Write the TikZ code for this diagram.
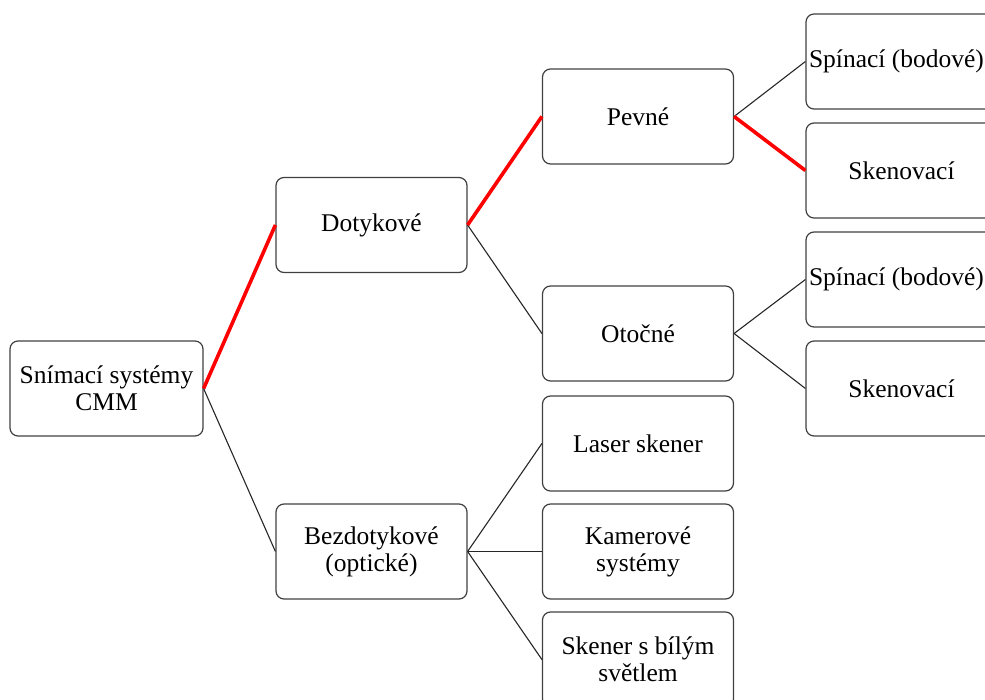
\documentclass[tikz,border=0pt]{standalone}
\usepackage{fontspec}
\setmainfont{Liberation Serif}
\begin{document}
\begin{tikzpicture}[
    x=1pt, y=-1pt,
    every node/.style={font=\fontsize{25.5}{27}\selectfont},
    blok/.style={draw=black!75, rounded corners=8pt, line width=1.2pt,
        minimum width=191pt, minimum height=95pt, align=center, inner sep=2pt},
    hrana/.style={black!85, line width=1.1pt},
    cervena/.style={red, line width=3.6pt}]
    \clip (0,0) rectangle (985,700);
    % Kořen a první úroveň.
    \node[blok,minimum width=193pt] (snim) at (106.5,388.5) {Snímací systémy\\CMM};
    \node[blok] (dotyk) at (371.5,225) {Dotykové};
    \node[blok] (bezdot) at (371.5,551.5) {Bezdotykové\\(optické)};

    % Druhá úroveň.
    \node[blok] (pevne) at (638,116.5) {Pevné};
    \node[blok] (otocne) at (638,333.5) {Otočné};
    \node[blok] (laser) at (638,443.5) {Laser skener};
    \node[blok] (kamera) at (638,551.5) {Kamerové\\systémy};
    \node[blok] (bily) at (638,659.5) {Skener s bílým\\světlem};

    % Třetí úroveň (oříznutá vpravo).
    \node[blok] (spin1) at (901.5,61.5) {\hspace*{-10pt}Spínací (bodové)};
    \node[blok] (sken1) at (901.5,170.5) {Skenovací};
    \node[blok] (spin2) at (901.5,279.5) {\hspace*{-10pt}Spínací (bodové)};
    \node[blok] (sken2) at (901.5,388.5) {Skenovací};

    % Spojnice.
    \draw[hrana] (snim.east) -- (bezdot.west);
    \draw[hrana] (dotyk.east) -- (otocne.west);
    \foreach \cil in {laser,kamera,bily}
        \draw[hrana] (bezdot.east) -- (\cil.west);
    \draw[hrana] (pevne.east) -- (spin1.west);
    \draw[hrana] (otocne.east) -- (spin2.west);
    \draw[hrana] (otocne.east) -- (sken2.west);
    \draw[cervena] (snim.east) -- (dotyk.west);
    \draw[cervena] (dotyk.east) -- (pevne.west);
    \draw[cervena] (pevne.east) -- (sken1.west);
\end{tikzpicture}
\end{document}
